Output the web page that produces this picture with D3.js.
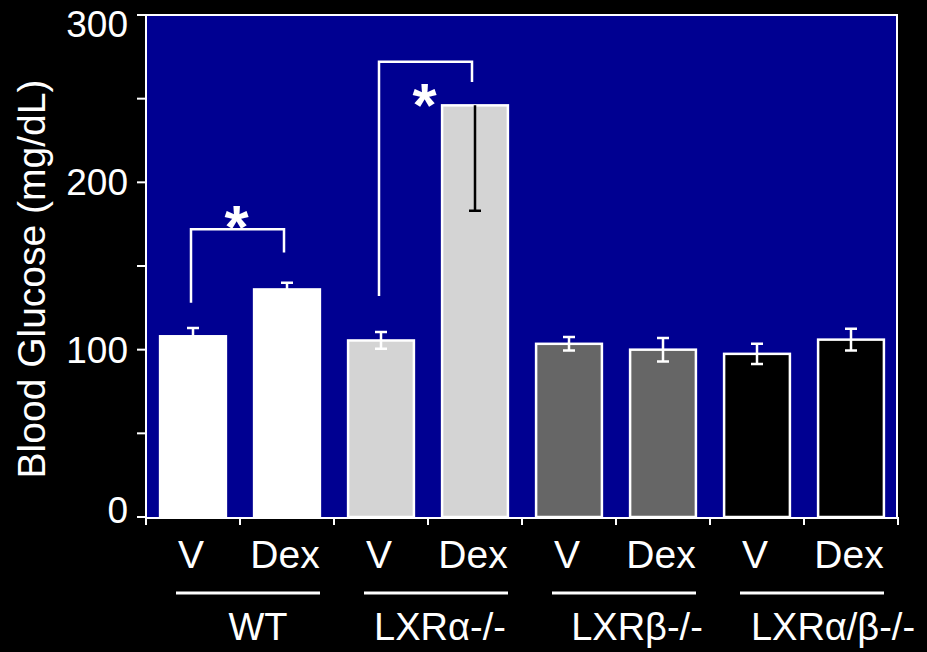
<!DOCTYPE html>
<html><head><meta charset="utf-8">
<script src="https://cdn.jsdelivr.net/npm/d3@7"></script>
<style>
html,body{margin:0;padding:0;background:#000;}
svg{display:block;}
text{font-family:"Liberation Sans",Arial,sans-serif;fill:#fff;}
</style></head>
<body>
<svg id="chart" width="927" height="652"></svg>
<script>
// ---- data ----
const treatments = ["V","Dex","V","Dex","V","Dex","V","Dex"];
const groups = ["WT","LXRα-/-","LXRβ-/-","LXRα/β-/-"];
const means  = [108, 136, 105.5, 246, 103.5, 100, 97.5, 106];
const errors = [5, 4, 5, 63, 4, 7, 6, 6.5];
const barColors = ["#ffffff","#ffffff","#d4d4d4","#d4d4d4","#666666","#666666","#000000","#000000"];
const yTicks = [0, 50, 100, 150, 200, 250, 300];
const yTickLabels = [0, 100, 200, 300];
// significance brackets: [leftBar, rightBar, leftBottom, top, rightBottom, asteriskValue]
const brackets = [
  [0, 1, 128, 172, 158, 183],
  [2, 3, 132, 272, 260, 256]
];
const groupLabelShift = [18, 12, 21, 29];

// ---- layout ----
const svg = d3.select("#chart");
const x0 = 146, x1 = 898, yTop = 15, yBot = 517;
const ids = d3.range(treatments.length);
const x = d3.scaleBand().domain(ids).range([x0, x1]).paddingInner(0.3).paddingOuter(0.15);
const y = d3.scaleLinear().domain([0, 300]).range([yBot, yTop]);
const step = x.step();

// plot background
svg.append("rect").attr("x", x0 + 1).attr("y", y(300)).attr("width", x1 - x0 - 2).attr("height", yBot - y(300))
  .attr("fill", "#000091");
svg.append("path").attr("d", `M${x0},${y(300)}H${x1 - 1}V${yBot}`)
  .attr("fill", "none").attr("stroke", "#fff").attr("stroke-width", 2);

// bars
svg.selectAll("rect.bar").data(ids).enter().append("rect").attr("class", "bar")
  .attr("x", i => x(i)).attr("y", i => y(means[i]))
  .attr("width", x.bandwidth()).attr("height", i => y(0) - y(means[i]))
  .attr("fill", i => barColors[i]).attr("stroke", "#fff").attr("stroke-width", 2.5);

// error bars
const cap = 6;
ids.forEach(i => {
  const cx = x(i) + x.bandwidth() / 2;
  const g = svg.append("g").attr("fill", "none").attr("stroke-width", 2.5);
  if (i === 3) {
    g.attr("stroke", "#000");
    g.append("path").attr("d", `M${cx},${y(means[i])}V${y(means[i] - errors[i])}M${cx - cap},${y(means[i] - errors[i])}H${cx + cap}`);
  } else {
    g.attr("stroke", "#fff");
    const t = y(means[i] + errors[i]), b = y(means[i] - errors[i]);
    g.append("path").attr("d", `M${cx},${t}V${b}M${cx - cap},${t}H${cx + cap}M${cx - cap},${b}H${cx + cap}`);
  }
});

// brackets
brackets.forEach(([a, b, lb, top, rb, sv]) => {
  const xa = x(a) + x.bandwidth() / 2 - 2, xb = x(b) + x.bandwidth() / 2 - 3;
  svg.append("path").attr("d", `M${xa},${y(lb)}V${y(top)}H${xb}V${y(rb)}`)
    .attr("fill", "none").attr("stroke", "#fff").attr("stroke-width", 2.5);
  const fs = 62;
  svg.append("text").attr("x", (xa + xb) / 2 - 1).attr("y", y(sv) + 0.6 * fs)
    .attr("text-anchor", "middle").attr("font-weight", "bold").attr("font-size", fs).text("*");
});

// y axis
const yAxis = svg.append("g");
yAxis.append("line").attr("x1", x0).attr("x2", x0).attr("y1", y(300) - 1).attr("y2", yBot + 2)
  .attr("stroke", "#fff").attr("stroke-width", 2);
yAxis.selectAll("line.t").data(yTicks).enter().append("line").attr("class", "t")
  .attr("x1", x0 - 9).attr("x2", x0).attr("y1", d => y(d)).attr("y2", d => y(d))
  .attr("stroke", "#fff").attr("stroke-width", 2);
yAxis.selectAll("text").data(yTickLabels).enter().append("text")
  .attr("x", 128).attr("y", d => Math.min(Math.max(y(d), yTop + 9), yBot - 7)).attr("dy", "0.35em").attr("text-anchor", "end")
  .attr("font-size", 37).text(d => d);

// y title
svg.append("text").attr("transform", "translate(45,279) rotate(-90)")
  .attr("text-anchor", "middle").attr("font-size", 39).text("Blood Glucose (mg/dL)");

// x axis
const boundaries = d3.range(treatments.length + 1).map(k => x0 + k * step);
svg.append("line").attr("x1", x0 - 1).attr("x2", x1 + 1).attr("y1", yBot + 1).attr("y2", yBot + 1)
  .attr("stroke", "#fff").attr("stroke-width", 2);
svg.selectAll("line.xt").data(boundaries).enter().append("line").attr("class", "xt")
  .attr("x1", d => d).attr("x2", d => d).attr("y1", yBot).attr("y2", yBot + 8)
  .attr("stroke", "#fff").attr("stroke-width", 2);

// treatment labels
svg.selectAll("text.tr").data(ids).enter().append("text").attr("class", "tr")
  .attr("x", i => x(i) + x.bandwidth() / 2 - 2).attr("y", 568)
  .attr("text-anchor", "middle").attr("font-size", 39).text(i => treatments[i]);

// group lines & labels
groups.forEach((gname, gi) => {
  const c = (x(gi * 2) + x(gi * 2 + 1) + x.bandwidth()) / 2;
  svg.append("line").attr("x1", c - 64).attr("x2", c + 80).attr("y1", 593).attr("y2", 593)
    .attr("stroke", "#fff").attr("stroke-width", 3);
  svg.append("text").attr("x", c + groupLabelShift[gi]).attr("y", 640)
    .attr("text-anchor", "middle").attr("font-size", 38).text(gname);
});
</script>
</body></html>
